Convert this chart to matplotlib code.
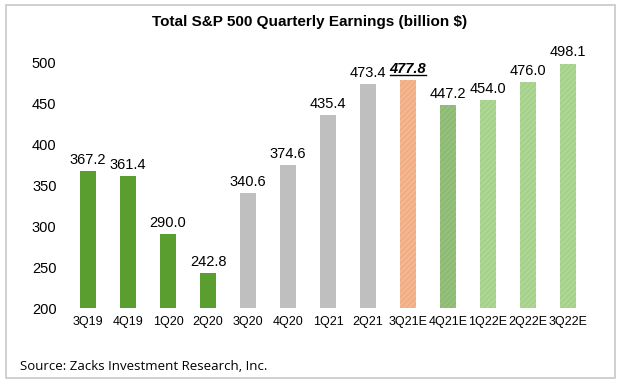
import numpy as np
import matplotlib.pyplot as plt
from matplotlib.patches import Rectangle

plt.rcParams['font.family'] = ['Liberation Sans', 'DejaVu Sans']
plt.rcParams['hatch.linewidth'] = 0.5

quarters = ['3Q19', '4Q19', '1Q20', '2Q20', '3Q20', '4Q20', '1Q21', '2Q21',
            '3Q21E', '4Q21E', '1Q22E', '2Q22E', '3Q22E']
earnings = [367.2, 361.4, 290.0, 242.8, 340.6, 374.6, 435.4, 473.4,
            477.8, 447.2, 454.0, 476.0, 498.1]
colors = ['#5a9e2f'] * 4 + ['#bfbfbf'] * 4 + ['#f2ad85', '#8dbb74'] + ['#a5d18a'] * 3
hatch_colors = [None] * 8 + ['#f8c8aa', '#a2c98d'] + ['#bddfa8'] * 3
highlight = 8

W, H = 620, 385
fig = plt.figure(figsize=(6.2, 3.85), dpi=100)
ax = fig.add_axes([60 / W, 0.2, 536 / W, 0.6815])

x = np.arange(len(quarters))
for i in x:
    if hatch_colors[i]:
        ax.bar(i, earnings[i] - 200, bottom=200, width=0.4, color=colors[i],
               edgecolor=hatch_colors[i], hatch='//////', linewidth=0)
    else:
        ax.bar(i, earnings[i] - 200, bottom=200, width=0.4, color=colors[i], linewidth=0)

ax.set_xlim(-0.7, 12.7)
ax.set_ylim(200, 520)
ax.set_yticks([200, 250, 300, 350, 400, 450, 500])
ax.set_xticks(x)
ax.set_xticklabels(quarters, fontsize=9)
ax.tick_params(axis='y', labelsize=10.5, length=0, pad=2.5)
ax.tick_params(axis='x', length=0, pad=6)
for s in ax.spines.values():
    s.set_visible(False)

labels = []
for i in x:
    if i == highlight:
        t = ax.text(i, earnings[i] + 5, f'{earnings[i]:.1f}', ha='center', va='bottom',
                    fontsize=10.5, fontweight='bold', fontstyle='italic')
    else:
        t = ax.text(i, earnings[i] + 5, f'{earnings[i]:.1f}', ha='center', va='bottom',
                    fontsize=10.5)
    labels.append(t)

fig.text(0.5, 1 - 22 / H, 'Total S&P 500 Quarterly Earnings (billion $)',
         ha='center', va='center', fontsize=11, fontweight='bold')
fig.text(20 / W, 1 - 367 / H, 'Source: Zacks Investment Research, Inc.',
         ha='left', va='center', fontsize=9.5, family=['Open Sans', 'DejaVu Sans'])

fig.patches.append(Rectangle((6 / W, 1 - 378 / H), 609 / W, 373 / H,
                             transform=fig.transFigure, fill=False,
                             edgecolor='#c8c8c8', linewidth=1.2))

# underline for the highlighted label
fig.canvas.draw()
bb = labels[highlight].get_window_extent().transformed(fig.transFigure.inverted())
fig.add_artist(plt.Line2D([bb.x0, bb.x1], [bb.y0 + 0.004, bb.y0 + 0.004],
                          transform=fig.transFigure, color='black', linewidth=1))

fig.savefig('out.png', dpi=100)
